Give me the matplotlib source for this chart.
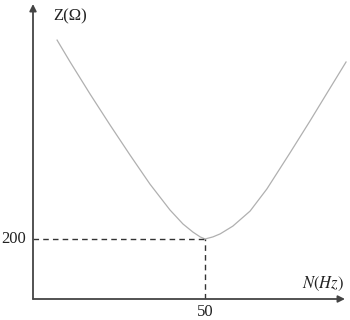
import numpy as np
import matplotlib

matplotlib.use('Agg')
import matplotlib.pyplot as plt

# curve: frequency N (Hz) vs impedance Z (ohm)
N = [7.0, 10.8, 16.6, 22.4, 28.2, 34.0, 39.8, 43.6, 46.5, 48.6, 50.0,
     52.3, 54.4, 58.1, 63.1, 68.0, 74.7, 80.5, 85.5, 91.0]
Z = [863, 790, 683, 580, 480, 383, 297, 250, 223, 207, 200,
     207, 217, 243, 293, 367, 487, 593, 687, 790]

N_res = 50
Z_min = 200

plt.rcParams['font.family'] = ['Liberation Serif', 'DejaVu Serif']
plt.rcParams['mathtext.fontset'] = 'stix'

fig = plt.figure(figsize=(3.5, 3.2), dpi=100)
ax = fig.add_axes([33 / 350, 21 / 320, 312 / 350, 295 / 320])
ax.set_xlim(0, 312 / 3.44)
ax.set_ylim(0, 295 / 0.3)
ax.axis('off')

ax.plot(N, Z, color='#b0b0b0', lw=0.9, clip_on=False, solid_joinstyle='round')

ax.plot([0, N_res], [Z_min, Z_min], color='#333333', lw=1.0, ls=(0, (4, 3)))
ax.plot([N_res, N_res], [0, Z_min], color='#333333', lw=1.0, ls=(0, (4, 3)))

arrow = dict(arrowstyle='-|>', color='#444444', lw=1.3, mutation_scale=10,
             shrinkA=0, shrinkB=0)
ax.annotate('', xy=(1, 0), xytext=(0, 0), xycoords='axes fraction', arrowprops=arrow)
ax.annotate('', xy=(0, 1), xytext=(0, 0), xycoords='axes fraction', arrowprops=arrow)

ax.text(-2, Z_min, '200', ha='right', va='center', fontsize=12, color='#222222')
ax.text(N_res, -15, '50', ha='center', va='top', fontsize=12, color='#222222')
ax.text(90.5, 50, r'$N(Hz)$', ha='right', va='center', fontsize=12, color='#222222')
ax.text(6, 943, 'Z(Ω)', ha='left', va='center', fontsize=12, color='#222222')

fig.savefig('out.png', dpi=100)
